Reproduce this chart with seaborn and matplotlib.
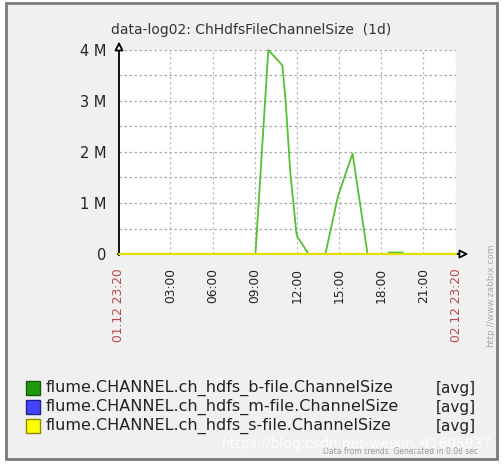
"""
Zabbix風グラフ: data-log02 ChHdfsFileChannelSize (1d) の再現
出力: out.png
"""
import numpy as np
import pandas as pd
import matplotlib
matplotlib.use("Agg")
import matplotlib.pyplot as plt
from matplotlib.patches import Rectangle
import seaborn as sns

# ======== データ ========
t_start = "2020-12-01 23:20"
t_end = "2020-12-02 23:20"

b_times = ["2020-12-01 23:20", "2020-12-02 09:03", "2020-12-02 09:58",
           "2020-12-02 10:58", "2020-12-02 11:12", "2020-12-02 11:32",
           "2020-12-02 11:58", "2020-12-02 12:02", "2020-12-02 12:50",
           "2020-12-02 14:02", "2020-12-02 14:54", "2020-12-02 15:08",
           "2020-12-02 15:58", "2020-12-02 17:02", "2020-12-02 18:30",
           "2020-12-02 18:32", "2020-12-02 19:32", "2020-12-02 19:34",
           "2020-12-02 23:20"]
b_values = [0, 0, 4.0, 3.7, 3.0, 1.6, 0.41, 0.34, 0, 0, 1.1, 1.3, 1.97,
            0, 0, 0.03, 0.03, 0, 0]  # 単位: M

m_times = [t_start, t_end]
m_values = [0, 0]
s_times = [t_start, t_end]
s_values = [0, 0]

y_ticks = [0, 1, 2, 3, 4]
y_labels = ["0", "1 M", "2 M", "3 M", "4 M"]
x_ticks = ["2020-12-01 23:20", "2020-12-02 03:00", "2020-12-02 06:00",
           "2020-12-02 09:00", "2020-12-02 12:00", "2020-12-02 15:00",
           "2020-12-02 18:00", "2020-12-02 21:00", "2020-12-02 23:20"]
x_labels = ["01.12 23:20", "03:00", "06:00", "09:00", "12:00", "15:00",
            "18:00", "21:00", "02.12 23:20"]

series_names = ["flume.CHANNEL.ch_hdfs_b-file.ChannelSize",
                "flume.CHANNEL.ch_hdfs_m-file.ChannelSize",
                "flume.CHANNEL.ch_hdfs_s-file.ChannelSize"]
square_colors = ["#1f9a0a", "#4444ff", "#ffff00"]
square_edges = ["#1a5a10", "#22228a", "#8a8a00"]
line_colors = ["#55c030", "#4444ff", "#e0e000"]

title = "data-log02: ChHdfsFileChannelSize  (1d)"

# ======== 描画 ========
sns.set_style("white")
plt.rcParams["font.family"] = ["DejaVu Sans"]

fig = plt.figure(figsize=(5.03, 4.65), dpi=100)
W, H = 503, 465


def fx(px):
    return px / W


def fy(py):
    return 1 - py / H


# 外枠（灰色パネル）
fig.patches.append(Rectangle((fx(6), fy(459)), fx(491), 456 / H,
                             transform=fig.transFigure, facecolor="#f0f0f0",
                             edgecolor="#7a7a7a", lw=2, zorder=-5))

ax = fig.add_axes([fx(119), fy(254), fx(337), 204 / H])
ax.set_zorder(1)
ax.set_facecolor("white")

df_b = pd.DataFrame({"t": pd.to_datetime(b_times), "v": b_values})
df_m = pd.DataFrame({"t": pd.to_datetime(m_times), "v": m_values})
df_s = pd.DataFrame({"t": pd.to_datetime(s_times), "v": s_values})

sns.lineplot(data=df_b, x="t", y="v", ax=ax, color=line_colors[0], lw=1.3,
             clip_on=False, zorder=3)
sns.lineplot(data=df_m, x="t", y="v", ax=ax, color=line_colors[1], lw=1.3,
             clip_on=False, zorder=3)
sns.lineplot(data=df_s, x="t", y="v", ax=ax, color=line_colors[2], lw=1.6,
             clip_on=False, zorder=4)

ax.set_xlim(pd.Timestamp(t_start), pd.Timestamp(t_end))
ax.set_ylim(0, 4)
for s in ax.spines.values():
    s.set_visible(False)

# グリッド
for v in np.arange(0.5, 4.01, 0.5):
    ax.axhline(v, color="#a8a8a8", lw=0.9, ls=(0, (2, 2)), zorder=1)
for t in x_ticks[1:]:
    ax.axvline(pd.Timestamp(t), color="#bcbcbc", lw=0.9, ls=(0, (2, 2)), zorder=1)

ax.set_yticks(y_ticks)
ax.set_yticklabels(y_labels, fontsize=10.5, color="#222222")
ax.set_xticks(pd.to_datetime(x_ticks))
ax.set_xticklabels(x_labels, rotation=90, fontsize=8.8)
ax.tick_params(axis="y", length=0, pad=9)
ax.tick_params(axis="x", length=0, pad=10)
for i, lab in enumerate(ax.get_xticklabels()):
    lab.set_color("#b84848" if i in (0, len(x_labels) - 1) else "#222222")
ax.set_xlabel("")
ax.set_ylabel("")

# 軸の矢印
ax.annotate("", xy=(0, 1.055), xytext=(0, -0.02), xycoords="axes fraction",
            annotation_clip=False,
            arrowprops=dict(arrowstyle="-|>,head_width=0.25,head_length=0.5",
                            fc="white", ec="black", lw=1.3))
ax.annotate("", xy=(1.045, 0), xytext=(-0.012, 0), xycoords="axes fraction",
            annotation_clip=False,
            arrowprops=dict(arrowstyle="-|>,head_width=0.25,head_length=0.5",
                            fc="white", ec="black", lw=1.3))

fig.text(fx(251), fy(30), title, ha="center", va="center", fontsize=10,
         color="#333333")

# 凡例
rows_y = [388, 407, 426]
for name, fc, ec, yy in zip(series_names, square_colors, square_edges, rows_y):
    fig.patches.append(Rectangle((fx(26), fy(yy + 7)), fx(14), 14 / H,
                                 transform=fig.transFigure, facecolor=fc,
                                 edgecolor=ec, lw=1, zorder=2))
    fig.text(fx(46), fy(yy), name, ha="left", va="center", fontsize=11.5,
             color="#222222")
    fig.text(fx(476), fy(yy), "[avg]", ha="right", va="center", fontsize=11,
             color="#222222")

fig.text(fx(491), fy(295), "http://www.zabbix.com", rotation=90, ha="center",
         va="center", fontsize=6.5, color="#aaaaaa")
fig.text(fx(478), fy(451), "Data from trends. Generated in 0.08 sec",
         ha="right", va="center", fontsize=5.5, color="#999999")
fig.text(fx(492), fy(444), "https://blog.csdn.net/weixin_41605937",
         ha="right", va="center", fontsize=10, color="white", alpha=0.85)

fig.savefig("out.png", dpi=100)
